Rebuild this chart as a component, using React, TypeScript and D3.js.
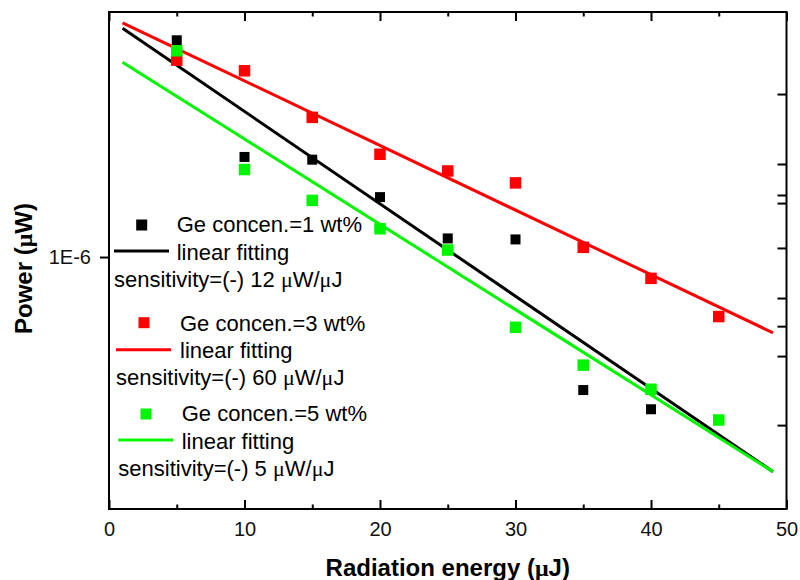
import React, { useEffect, useRef } from 'react';
import * as d3 from 'd3';

// radiation energy (uJ) for the measured points
const energy = [5, 10, 15, 20, 25, 30, 35, 40, 45];
// measured power, one list per Ge concentration
const power1 = [2.73e-6, 1.59e-6, 1.57e-6, 1.32e-6, 1.09e-6, 1.085e-6, 5.4e-7, 4.94e-7];
const power3 = [2.49e-6, 2.37e-6, 1.91e-6, 1.61e-6, 1.49e-6, 1.41e-6, 1.046e-6, 9.06e-7, 7.59e-7];
const power5 = [2.6e-6, 1.5e-6, 1.3e-6, 1.14e-6, 1.033e-6, 7.22e-7, 6.06e-7, 5.42e-7, 4.7e-7];

// fitted lines (end points)
const fitEnergy = [1, 49];
const fit1 = [2.885e-6, 3.7e-7];
const fit3 = [2.96e-6, 7.04e-7];
const fit5 = [2.465e-6, 3.7e-7];

const legendLabels = ['Ge concen.=1 wt%', 'Ge concen.=3 wt%', 'Ge concen.=5 wt%'];
const fitLabel = 'linear fitting';
const sensitivities = ['12', '60', '5'];

const xMajorTicks = [0, 10, 20, 30, 40, 50];
const xMinorTicks = [5, 15, 25, 35, 45];
const yTicks = [1e-6];
const yTickLabels = ['1E-6'];
const rightTicks = [2.128e-6, 1.539e-6, 1.333e-6, 1.284e-6, 1.043e-6, 8.27e-7, 7.26e-7, 6.32e-7, 4.59e-7];

const colors = ['#000000', '#ff0000', '#00f500'];

const App = () => {
    const ref = useRef(null);

    useEffect(() => {
        const svg = d3.select(ref.current);
        svg.selectAll('*').remove();

        const left = 109, right = 786.5, top = 12, bottom = 509;
        const font = '"Liberation Sans", Arial, sans-serif';

        var x = d3.scaleLinear().domain([0, 50]).range([left, right]);
        var y = d3.scaleLog().domain([3.112e-7, 3.112e-6]).range([bottom, top]);

        // fitted lines: red, black, green on top
        const line = d3.line().x(d => x(d[0])).y(d => y(d[1]));
        const fits = [fit3, fit1, fit5];
        const fitColors = [colors[1], colors[0], colors[2]];
        fits.forEach((f, i) => {
            svg.append('path')
                .attr('d', line(fitEnergy.map((e, j) => [e, f[j]])))
                .attr('fill', 'none')
                .attr('stroke', fitColors[i])
                .attr('stroke-width', 3);
        });

        // points
        const series = [power3, power1, power5];
        const sizes = [11.5, 10, 11.5];
        series.forEach((s, i) => {
            svg.selectAll('.pt' + i)
                .data(s)
                .enter()
                .append('rect')
                .attr('class', 'pt' + i)
                .attr('x', (d, j) => x(energy[j]) - sizes[i] / 2)
                .attr('y', d => y(d) - sizes[i] / 2)
                .attr('width', sizes[i])
                .attr('height', sizes[i])
                .attr('fill', fitColors[i]);
        });

        // frame
        svg.append('rect')
            .attr('x', left).attr('y', top)
            .attr('width', right - left).attr('height', bottom - top)
            .attr('fill', 'none').attr('stroke', '#000').attr('stroke-width', 2);

        const styleAxis = g => {
            g.select('.domain').remove();
            g.selectAll('line').attr('stroke', '#000').attr('stroke-width', 2);
            g.selectAll('text').attr('font-family', font).attr('font-size', 20).attr('fill', '#111');
        };

        // bottom axis
        svg.append('g').attr('transform', `translate(0,${bottom})`)
            .call(d3.axisBottom(x).tickValues(xMajorTicks).tickSize(-9).tickPadding(13).tickFormat(d3.format('d')))
            .call(styleAxis);
        svg.append('g').attr('transform', `translate(0,${bottom})`)
            .call(d3.axisBottom(x).tickValues(xMinorTicks).tickSize(-4.5).tickFormat(() => ''))
            .call(styleAxis);
        // top axis
        svg.append('g').attr('transform', `translate(0,${top})`)
            .call(d3.axisTop(x).tickValues(xMajorTicks).tickSize(-9).tickFormat(() => ''))
            .call(styleAxis);
        svg.append('g').attr('transform', `translate(0,${top})`)
            .call(d3.axisTop(x).tickValues(xMinorTicks).tickSize(-4.5).tickFormat(() => ''))
            .call(styleAxis);
        // left axis
        svg.append('g').attr('transform', `translate(${left},0)`)
            .call(d3.axisLeft(y).tickValues(yTicks).tickSize(9).tickPadding(9)
                .tickFormat((d, i) => yTickLabels[i]))
            .call(styleAxis);
        // right axis
        svg.append('g').attr('transform', `translate(${right},0)`)
            .call(d3.axisRight(y).tickValues(rightTicks).tickSize(-9).tickFormat(() => ''))
            .call(styleAxis);

        // axis titles
        const xt = svg.append('text')
            .attr('x', (left + right) / 2).attr('y', 576)
            .attr('text-anchor', 'middle')
            .attr('font-family', font).attr('font-size', 24).attr('font-weight', 'bold');
        xt.append('tspan').text('Radiation energy (');
        xt.append('tspan').attr('font-family', '"Liberation Serif", serif').text('μ');
        xt.append('tspan').text('J)');

        const yt = svg.append('text')
            .attr('transform', `translate(32,${(top + bottom) / 2 + 8}) rotate(-90)`)
            .attr('text-anchor', 'middle')
            .attr('font-family', font).attr('font-size', 24).attr('font-weight', 'bold');
        yt.append('tspan').text('Power (');
        yt.append('tspan').attr('font-family', '"Liberation Serif", serif').text('μ');
        yt.append('tspan').text('W)');

        // legend
        const blocks = [
            { sx: 141.7, sy: 225, tx: 176.7, lx: 114, y: 232 },
            { sx: 144, sy: 322.7, tx: 180, lx: 116, y: 330.7 },
            { sx: 146, sy: 414, tx: 181.7, lx: 118.3, y: 421 },
        ];
        blocks.forEach((b, i) => {
            const c = colors[i];
            const g = svg.append('g').attr('font-family', font).attr('font-size', 22).attr('fill', '#000');
            g.append('rect')
                .attr('x', b.sx - 5.5).attr('y', b.sy - 5.5)
                .attr('width', 11).attr('height', 11).attr('fill', c);
            g.append('text').attr('x', b.tx).attr('y', b.y).text(legendLabels[i]);
            g.append('line')
                .attr('x1', b.lx).attr('x2', b.lx + 55)
                .attr('y1', b.y + 19).attr('y2', b.y + 19)
                .attr('stroke', c).attr('stroke-width', 3);
            g.append('text').attr('x', b.tx).attr('y', b.y + 27.5).text(fitLabel);
            const s = g.append('text').attr('x', b.lx).attr('y', b.y + 54.5);
            s.append('tspan').text('sensitivity=(-) ' + sensitivities[i] + ' ');
            s.append('tspan').attr('font-family', '"Liberation Serif", serif').text('μ');
            s.append('tspan').text('W/');
            s.append('tspan').attr('font-family', '"Liberation Serif", serif').text('μ');
            s.append('tspan').text('J');
        });
    }, []);

    return (
        <svg ref={ref} width={800} height={580}
            style={{ position: 'absolute', left: 0, top: 0, background: '#fff' }} />
    );
};

export default App;
